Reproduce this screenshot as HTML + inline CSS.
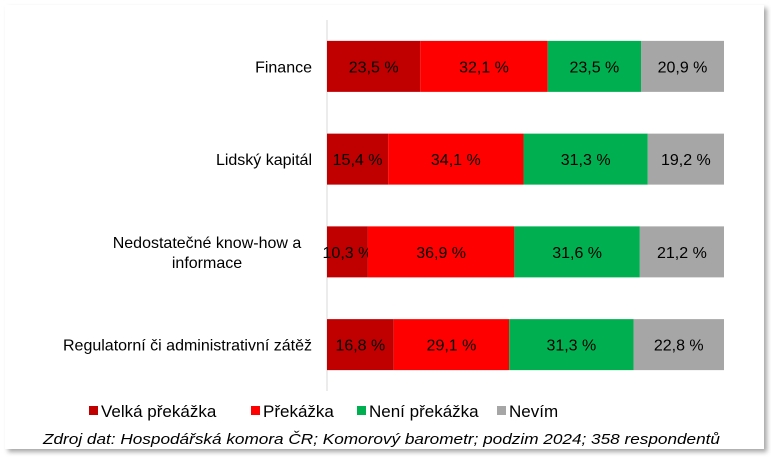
<!DOCTYPE html>
<html><head><meta charset="utf-8"><style>
html,body{margin:0;padding:0;background:#fff;}
svg{display:block;font-family:"Liberation Sans",Arial,sans-serif;}
</style></head><body>
<svg id="chart" width="771" height="457" viewBox="0 0 771 457" xmlns="http://www.w3.org/2000/svg">
<defs><filter id="sh" x="-5%" y="-5%" width="110%" height="115%"><feDropShadow dx="3" dy="3" stdDeviation="2.5" flood-color="#000" flood-opacity="0.35"/></filter></defs>
<rect x="5" y="5" width="759" height="444" fill="#fff" filter="url(#sh)"/>
<line x1="327" y1="20" x2="327" y2="391" stroke="#d9d9d9" stroke-width="1"/>
<g id="bars"></g>
<g id="legend"></g>
<text x="43" y="444" font-size="15" font-style="italic" fill="#000" textLength="677" lengthAdjust="spacingAndGlyphs">Zdroj dat: Hospodářská komora ČR; Komorový barometr; podzim 2024; 358 respondentů</text>
</svg>
<script>
const categories = ["Finance", "Lidský kapitál", "Nedostatečné know-how a informace", "Regulatorní či administrativní zátěž"];
const seriesNames = ["Velká překážka", "Překážka", "Není překážka", "Nevím"];
const velka = [23.5, 15.4, 10.3, 16.8];
const prekazka = [32.1, 34.1, 36.9, 29.1];
const neni = [23.5, 31.3, 31.6, 31.3];
const nevim = [20.9, 19.2, 21.2, 22.8];
const colors = ["#c00000", "#ff0000", "#00b050", "#a6a6a6"];
const series = [velka, prekazka, neni, nevim];
const NS = "http://www.w3.org/2000/svg";
const x0 = 327, plotW = 397, plotTop = 20, bandH = 92.75, barH = 51;
function xs(v){ return v / 100 * plotW; }
function yBand(i){ return plotTop + i * bandH + (bandH - barH) / 2; }
const g = document.getElementById('bars');
function mk(tag, attrs){ const e = document.createElementNS(NS, tag); for (const k in attrs) e.setAttribute(k, attrs[k]); return e; }
categories.forEach((cat, i) => {
  let acc = 0;
  const y = yBand(i);
  series.forEach((s, j) => {
    const w = xs(s[i]);
    const r = mk('rect', {x: x0 + xs(acc), y: y, width: w, height: barH, fill: colors[j]});
    
    
    g.appendChild(r);
    const t = mk('text', {x: x0 + xs(acc) + w/2, y: y + barH/2 + 6, 'text-anchor': 'middle', 'font-size': '16', fill: '#000'});
    
    
    t.textContent = s[i].toFixed(1).replace('.', ',') + ' %';
    g.appendChild(t);
    acc += s[i];
  });
  const cy = y + barH/2;
  if (cat.indexOf('know-how') >= 0) {
    const lines = ["Nedostatečné know-how a", "informace"];
    lines.forEach((ln, k) => {
      const t = mk('text', {x: 207, y: cy - 4 + k*20, 'text-anchor': 'middle', 'font-size': '16', fill: '#000'});
      
      
      t.textContent = ln;
      g.appendChild(t);
    });
  } else {
    const t = mk('text', {x: 312, y: cy + 6, 'text-anchor': 'end', 'font-size': '16', fill: '#000'});
    
    
    t.textContent = cat;
    g.appendChild(t);
  }
});
const lg = document.getElementById('legend');
const legX = [89, 251, 357, 497];
seriesNames.forEach((n, j) => {
  const sq = mk('rect', {x: legX[j], y: 406, width: 9, height: 9, fill: colors[j]});
  
  
  lg.appendChild(sq);
  const t = mk('text', {x: legX[j] + 12, y: 417, 'font-size': '17', fill: '#000'});
  
  
  t.textContent = n;
  lg.appendChild(t);
});
</script>
</body></html>
